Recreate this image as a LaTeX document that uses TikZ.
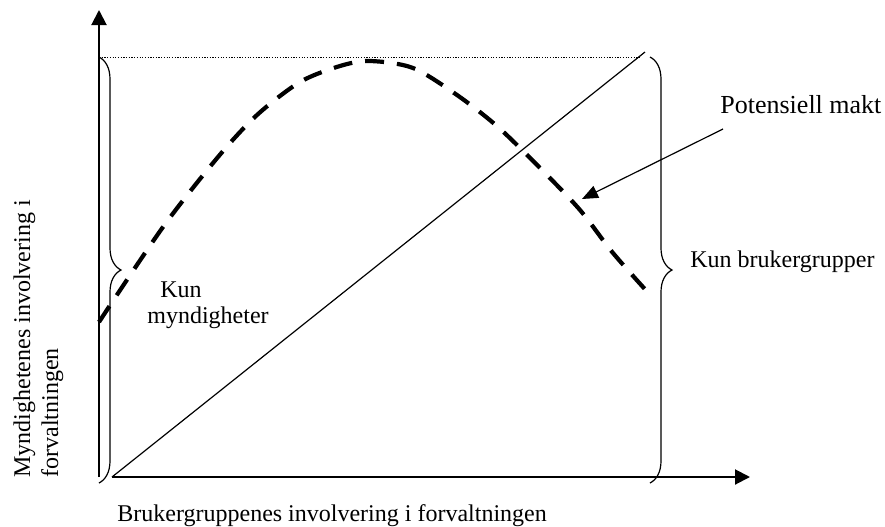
\documentclass[tikz,border=0pt]{standalone}
\usepackage{fontspec}
\setmainfont{Liberation Serif}
\usetikzlibrary{arrows.meta,decorations.pathreplacing}

\begin{document}
\begin{tikzpicture}[x=0.5pt,y=-0.5pt,
  akse/.style={line width=1pt,-{Triangle[length=7.5pt,width=7.5pt]}},
  krull/.style={decorate,decoration={brace,amplitude=11pt},line width=0.6pt},
  tekst/.style={font=\fontsize{12}{14}\selectfont,inner sep=0pt},
  stortekst/.style={font=\fontsize{13}{15}\selectfont,inner sep=0pt}]
\useasboundingbox (0,0) rectangle (885,526);

%axes
\coordinate (ybunn) at (99,477); \coordinate (ytopp) at (99,10);
\coordinate (xstart) at (112,477); \coordinate (xslutt) at (750,477);
\draw[akse] (ybunn)--(ytopp);
\draw[akse] (xstart)--(xslutt);

%top line and diagonal
\coordinate (maksv) at (99,57); \coordinate (maksh) at (640,57);
\coordinate (diagtopp) at (645,52);
\draw[line width=0.5pt,dash pattern=on 0.6pt off 0.75pt] (maksv)--(maksh);
\draw[line width=0.6pt] (xstart)--(diagtopp);

%braces
\coordinate (kv1) at (99,57); \coordinate (kv2) at (99,483);
\coordinate (kh1) at (650,57); \coordinate (kh2) at (650,483);
\draw[krull] (kv1)--(kv2);
\draw[krull] (kh1)--(kh2);

%potential power curve
\draw[line width=2.1pt,dash pattern=on 9.5pt off 6.5pt] plot[smooth] coordinates {(99,322) (163,227) (218,157) (257,115) (300,82) (340,66) (370,61) (413,68) (457,95) (498,127) (542,170) (580,210) (613,253) (652,297)};

%labels
\node[stortekst,anchor=base west] (pot) at (720,113) {Potensiell makt};
\node[tekst,anchor=base west] (kunb) at (690,267) {Kun brukergrupper};
\node[tekst,anchor=base west] (xlab) at (117,521) {Brukergruppenes involvering i forvaltningen};
\node[tekst,anchor=north west,align=left,font=\fontsize{12}{13}\selectfont] (kunm) at (147,281) {\hspace*{6.5pt}Kun\\myndigheter};
\node[tekst,rotate=90,anchor=north west,align=left] (ylab) at (13,478) {Myndighetenes involvering i\\forvaltningen};

\coordinate (pil0) at (723,129); \coordinate (pil1) at (582,199);
\draw[line width=0.6pt,-{Triangle[length=8pt,width=6.5pt]}] (pil0)--(pil1);
\end{tikzpicture}
\end{document}
